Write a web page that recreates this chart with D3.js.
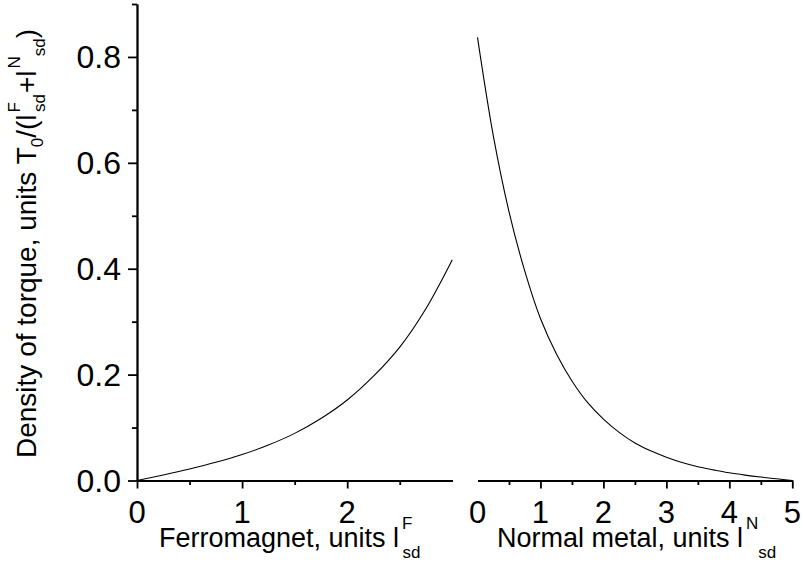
<!DOCTYPE html>
<html><head><meta charset="utf-8">
<script src="https://cdn.jsdelivr.net/npm/d3@7"></script>
<style>
html,body{margin:0;padding:0;background:#fff;}
svg{display:block;font-family:"Liberation Sans",Arial,sans-serif;}
</style></head>
<body>
<svg id="chart" width="803" height="562"></svg>
<script>
// Ferromagnet side (x in units l^F_sd)
const ferroX = [0,0.25,0.5,0.75,1,1.25,1.5,1.75,2,2.25,2.5,2.75,3];
const ferroY = [0,0.0105,0.0218,0.0343,0.049,0.067,0.089,0.117,0.152,0.197,0.252,0.325,0.417];
// Normal metal side (x in units l^N_sd)
const normalX = [0,0.25,0.5,0.75,1,1.25,1.5,1.75,2,2.25,2.5,2.75,3,3.25,3.5,3.75,4,4.25,4.5,4.75,5];
const normalY = [0.837,0.652,0.508,0.396,0.306,0.240,0.188,0.147,0.116,0.091,0.071,0.056,0.044,0.034,0.026,0.020,0.0145,0.0102,0.0065,0.0032,0];
const yMajorTicks = [0,0.2,0.4,0.6,0.8];
const yTickLabels = ["0.0","0.2","0.4","0.6","0.8"];
const yMinorTicks = [0.1,0.3,0.5,0.7,0.9];
const ferroMajor = [0,1,2];
const ferroMinor = [0.5,1.5,2.5];
const normalMajor = [1,2,3,4,5];
const normalLabels = [0,1,2,3,4,5];
const normalMinor = [0.5,1.5,2.5,3.5,4.5];

const svg = d3.select("#chart");
const y = d3.scaleLinear().domain([0,0.9]).range([480.5,4]);
const xF = d3.scaleLinear().domain([0,3]).range([137,452.3]);
const xN = d3.scaleLinear().domain([0,5]).range([477.5,792.3]);

const axisW = 1.8;
function style(g){
  g.selectAll("path.domain").attr("stroke","#000").attr("stroke-width",axisW);
  g.selectAll(".tick line").attr("stroke","#000").attr("stroke-width",axisW);
  g.selectAll(".tick text").remove();
}
// Y axis
svg.append("g").attr("transform","translate(137,0)")
  .call(d3.axisLeft(y).tickValues(yMajorTicks).tickSize(9).tickSizeOuter(0)).call(style);
svg.append("g").attr("transform","translate(137,0)")
  .call(d3.axisLeft(y).tickValues(yMinorTicks).tickSize(5).tickSizeOuter(0)).call(style);
// Ferro x axis
svg.append("g").attr("transform","translate(0,480.5)")
  .call(d3.axisBottom(xF).tickValues(ferroMajor).tickSize(8).tickSizeOuter(0)).call(style);
svg.append("g").attr("transform","translate(0,480.5)")
  .call(d3.axisBottom(xF).tickValues(ferroMinor).tickSize(4.5).tickSizeOuter(0)).call(style);
// Normal x axis
svg.append("g").attr("transform","translate(0,480.5)")
  .call(d3.axisBottom(xN).tickValues(normalMajor).tickSize(8).tickSizeOuter(0)).call(style);
svg.append("g").attr("transform","translate(0,480.5)")
  .call(d3.axisBottom(xN).tickValues(normalMinor).tickSize(4.5).tickSizeOuter(0)).call(style);

// Tick labels
svg.append("g").selectAll("text").data(yMajorTicks).join("text")
  .attr("x",121).attr("y",d=>y(d)).attr("dy","0.36em")
  .attr("text-anchor","end").attr("font-size",32).text((d,i)=>yTickLabels[i]);
svg.append("g").selectAll("text").data(ferroMajor).join("text")
  .attr("x",d=>xF(d)).attr("y",523).attr("text-anchor","middle").attr("font-size",31).text(d=>d);
svg.append("g").selectAll("text").data(normalLabels).join("text")
  .attr("x",d=>xN(d)).attr("y",523).attr("text-anchor","middle").attr("font-size",31).text(d=>d);

// Curves
const line = (sx)=>d3.line().x(d=>sx(d[0])).y(d=>y(d[1])).curve(d3.curveCatmullRom.alpha(0.5));
svg.append("path").datum(ferroX.map((v,i)=>[v,ferroY[i]]))
  .attr("d",line(xF)).attr("fill","none").attr("stroke","#000").attr("stroke-width",1.1);
svg.append("path").datum(normalX.map((v,i)=>[v,normalY[i]]))
  .attr("d",line(xN)).attr("fill","none").attr("stroke","#000").attr("stroke-width",1.1);

// Axis titles
const t1 = svg.append("text").attr("x",159).attr("y",547).attr("font-size",27);
t1.append("tspan").text("Ferromagnet, units l");
t1.append("tspan").attr("font-size",17).attr("dx",3).attr("dy",-18).text("F");
t1.append("tspan").attr("font-size",17).attr("dx",-10).attr("dy",29).text("sd");

const t2 = svg.append("text").attr("x",497).attr("y",547).attr("font-size",27);
t2.append("tspan").text("Normal metal, units l");
t2.append("tspan").attr("font-size",17).attr("dx",3).attr("dy",-18).text("N");
t2.append("tspan").attr("font-size",17).attr("dx",0).attr("dy",29).text("sd");

const t3 = svg.append("text").attr("transform","translate(36,458) rotate(-90)").attr("font-size",28);
t3.append("tspan").text("Density of torque, units T");
t3.append("tspan").attr("font-size",17).attr("dy",7).text("0");
t3.append("tspan").attr("dy",-7).text("/(l");
t3.append("tspan").attr("font-size",17).attr("dx",2).attr("dy",-16).text("F");
t3.append("tspan").attr("font-size",17).attr("dx",-10).attr("dy",25).text("sd");
t3.append("tspan").attr("dx",1).attr("dy",-9).text("+l");
t3.append("tspan").attr("font-size",17).attr("dx",2).attr("dy",-16).text("N");
t3.append("tspan").attr("font-size",17).attr("dy",25).text("sd");
t3.append("tspan").attr("dy",-9).text(")");
</script>
</body></html>
